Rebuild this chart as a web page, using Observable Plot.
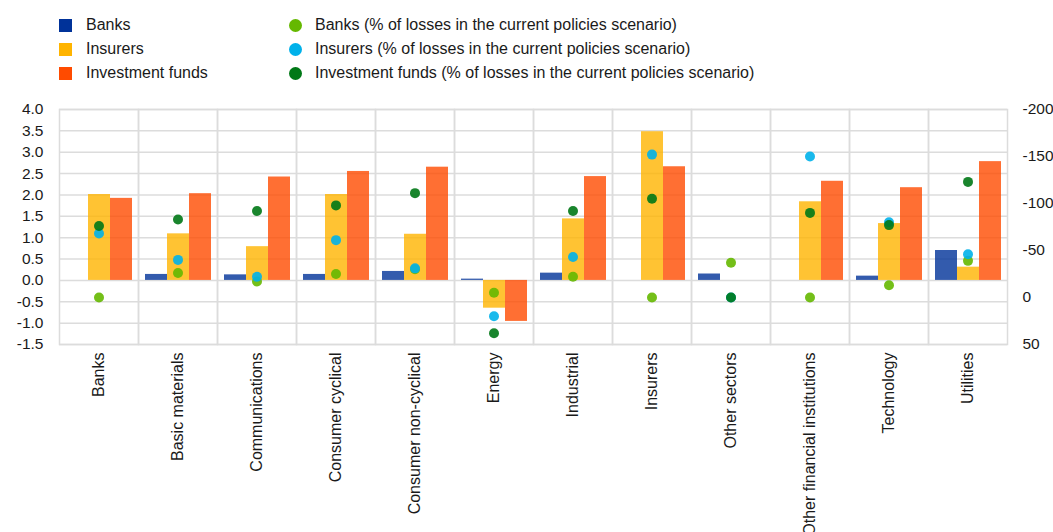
<!DOCTYPE html>
<html>
<head>
<meta charset="utf-8">
<script src="https://cdn.jsdelivr.net/npm/d3@7"></script>
<script src="https://cdn.jsdelivr.net/npm/@observablehq/plot@0.6"></script>
<style>
  html, body { margin: 0; padding: 0; background: #fff; }
  #wrap { width: 1053px; position: relative; font-family: "Liberation Sans", Arial, sans-serif; color: #1a1a1a; }
  #legend { position: relative; height: 95px; width: 1053px; font-size: 16px; }
  .li { position: absolute; display: flex; align-items: center; height: 20px; white-space: nowrap; }
  .sw { width: 13px; height: 13px; margin-right: 14px; }
  .dt { width: 13px; height: 13px; border-radius: 50%; margin-right: 13px; }
</style>
</head>
<body>
<div id="wrap">
  <div id="legend"></div>
  <div id="chart"></div>
</div>
<script>
const categories = ["Banks", "Basic materials", "Communications", "Consumer cyclical", "Consumer non-cyclical", "Energy", "Industrial", "Insurers", "Other sectors", "Other financial institutions", "Technology", "Utilities"];
const seriesNames = ["Banks", "Insurers", "Investment funds"];
// left axis: bars
const banks    = [0, 0.14, 0.13, 0.14, 0.21, 0.03, 0.17, 0, 0.15, 0, 0.10, 0.70];
const insurers = [2.01, 1.09, 0.79, 2.01, 1.08, -0.65, 1.44, 3.48, 0, 1.84, 1.33, 0.31];
const funds    = [1.92, 2.03, 2.42, 2.55, 2.65, -0.96, 2.43, 2.66, 0, 2.32, 2.17, 2.78];
// right axis: dots (% of losses in the current policies scenario)
const banksPct    = [0, -26, -17, -25, -30, -5, -22, 0, -37, 0, -13, -39];
const insurersPct = [-68, -40, -22, -61, -31, 20, -43, -152, 0, -150, -80, -46];
const fundsPct    = [-76, -83, -92, -98, -111, 38, -92, -105, 0, -90, -77, -123];
const leftTicks  = [4.0, 3.5, 3.0, 2.5, 2.0, 1.5, 1.0, 0.5, 0.0, -0.5, -1.0, -1.5];
const rightTicks = [-200, -150, -100, -50, 0, 50];

const barColors = {"Banks": "#003299", "Insurers": "#FFB400", "Investment funds": "#FF4B00"};
const dotColors = {"Banks": "#65B800", "Insurers": "#00B1EA", "Investment funds": "#007816"};

// map right-axis values (-200 top .. 50 bottom) onto the left scale (4 top .. -1.5 bottom)
const toLeft = v => 4 - (v + 200) * 0.022;
const fromLeft = u => Math.round((4 - u) / 0.022 - 200);

const barSeries = [banks, insurers, funds];
const barData = [];
categories.forEach((c, i) => seriesNames.forEach((s, j) => {
  const v = barSeries[j][i];
  if (v !== 0) barData.push({category: c, series: s, value: v});
}));
const dotSeries = [banksPct, insurersPct, fundsPct];
const dotData = seriesNames.map((s, j) => categories.map((c, i) => ({category: c, series: s, value: dotSeries[j][i]})));

// legend
const legend = document.getElementById("legend");
const rows = [25, 49, 73];
seriesNames.forEach((s, j) => {
  const a = document.createElement("div");
  a.className = "li"; a.style.left = "59px"; a.style.top = (rows[j] - 10) + "px";
  a.innerHTML = `<div class="sw" style="background:${barColors[s]}"></div><span>${s}</span>`;
  legend.appendChild(a);
  const b = document.createElement("div");
  b.className = "li"; b.style.left = "289px"; b.style.top = (rows[j] - 10) + "px";
  b.innerHTML = `<div class="dt" style="background:${dotColors[s]}"></div><span>${s} (% of losses in the current policies scenario)</span>`;
  legend.appendChild(b);
});

const grid = "#dcdcdc";
const chart = Plot.plot({
  width: 1053,
  height: 437,
  marginTop: 14,
  marginBottom: 188,
  marginLeft: 58,
  marginRight: 45,
  style: {fontFamily: "'Liberation Sans', Arial, sans-serif", fontSize: "15px", color: "#1a1a1a", background: "#fff"},
  fx: {domain: categories, padding: 0, axis: null, label: null},
  x: {domain: seriesNames, paddingInner: 0, paddingOuter: 0.26, axis: null},
  y: {domain: [-1.5, 4], axis: null},
  color: {type: "identity"},
  marks: [
    Plot.gridY(leftTicks, {stroke: grid, strokeOpacity: 1, strokeWidth: 1.5}),
    Plot.frame({stroke: grid, strokeWidth: 1.5}),
    Plot.barY(barData, {fx: "category", x: "series", y1: 0, y2: "value", fill: d => barColors[d.series], fillOpacity: 0.8}),
    ...dotData.map(ds => Plot.dot(ds, {fx: "category", y: d => toLeft(d.value), r: 5, fill: dotColors[ds[0].series], fillOpacity: 0.9, stroke: null})),
    Plot.axisY(leftTicks, {anchor: "left", tickSize: 0, tickPadding: 16, tickFormat: d => d.toFixed(1), label: null, fontSize: 15.5}),
    Plot.axisY(rightTicks.map(toLeft), {anchor: "right", tickSize: 0, tickPadding: 15, tickFormat: u => String(fromLeft(u)), label: null, fontSize: 15.5}),
    Plot.axisFx({anchor: "bottom", tickRotate: -90, tickSize: 0, tickPadding: 8, label: null, fontSize: 16})
  ]
});
document.getElementById("chart").appendChild(chart);
</script>
</body>
</html>
